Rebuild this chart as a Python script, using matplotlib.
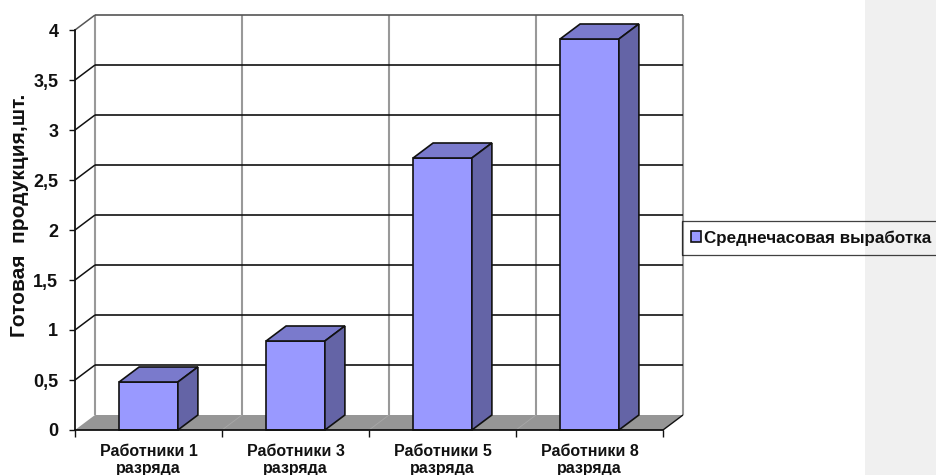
import matplotlib
matplotlib.use("Agg")
import matplotlib.pyplot as plt
from matplotlib.patches import Polygon, Patch, Rectangle

plt.rcParams["font.family"] = ["Liberation Sans", "DejaVu Sans"]
plt.rcParams["font.weight"] = "bold"

# Chart data
categories = ["Работники 1\nразряда", "Работники 3\nразряда",
              "Работники 5\nразряда", "Работники 8\nразряда"]
output_per_hour = [0.48, 0.89, 2.72, 3.91]
y_ticks = [0, 0.5, 1, 1.5, 2, 2.5, 3, 3.5, 4]
y_tick_labels = ["0", "0,5", "1", "1,5", "2", "2,5", "3", "3,5", "4"]
series_name = "Среднечасовая выработка"
y_title = "Готовая  продукция,шт."

# Oblique projection depth, expressed in axis units
DEPTH_X = 0.136
DEPTH_Y = 0.15
BAR_WIDTH = 0.40

FRONT = "#9999FF"
TOP = "#7A7ACC"
SIDE = "#6464A6"
FLOOR = "#969696"
WALL_GREY = "#999999"
INK = "#111111"

W, H = 936, 475
fig = plt.figure(figsize=(W / 100, H / 100), dpi=100, facecolor="white")
fig.add_artist(Rectangle((865 / W, 0), 71 / W, 1, transform=fig.transFigure,
                         facecolor="#F0F0F0", edgecolor="none", zorder=-5))

ax = fig.add_axes([75 / W, (H - 430) / H, 588 / W, 400 / H])
ax.set_xlim(0, len(categories))
ax.set_ylim(0, 4)
ax.patch.set_alpha(0)
for name in ("top", "right"):
    ax.spines[name].set_visible(False)
for name in ("left", "bottom"):
    ax.spines[name].set_linewidth(1.3)
    ax.spines[name].set_color(INK)
    ax.spines[name].set_zorder(6)

n = len(categories)
y_top = y_ticks[-1]


def draw_line(xs, ys, color, lw, z=1):
    ax.plot(xs, ys, color=color, lw=lw, clip_on=False, zorder=z,
            solid_capstyle="butt")


# Floor of the plot box
ax.add_patch(Polygon([(0, 0), (n, 0), (n + DEPTH_X, DEPTH_Y), (DEPTH_X, DEPTH_Y)],
                     closed=True, facecolor=FLOOR, edgecolor="none",
                     clip_on=False, zorder=0.5))

# Back wall: vertical grid, then horizontal grid with its run-in on the side wall
for i in range(n + 1):
    draw_line([i + DEPTH_X] * 2, [DEPTH_Y, y_top + DEPTH_Y], WALL_GREY, 1.5)
    if 0 < i < n:
        draw_line([i, i + DEPTH_X], [0, DEPTH_Y], "#A8A8A8", 0.6)
for v in y_ticks[1:]:
    edge = "#555555" if v == y_top else INK
    draw_line([DEPTH_X, n + DEPTH_X], [v + DEPTH_Y] * 2, edge, 1.2, 1.5)
    draw_line([0, DEPTH_X], [v, v + DEPTH_Y], edge, 1.1, 1.5)
draw_line([n, n + DEPTH_X], [0, DEPTH_Y], INK, 1.0, 1.5)

# Columns drawn as three faces
for i, v in enumerate(output_per_hour):
    x0 = i + 0.5 - BAR_WIDTH / 2
    x1 = i + 0.5 + BAR_WIDTH / 2
    faces = [
        ([(x0, 0), (x1, 0), (x1, v), (x0, v)], FRONT),
        ([(x0, v), (x1, v), (x1 + DEPTH_X, v + DEPTH_Y), (x0 + DEPTH_X, v + DEPTH_Y)], TOP),
        ([(x1, 0), (x1 + DEPTH_X, DEPTH_Y), (x1 + DEPTH_X, v + DEPTH_Y), (x1, v)], SIDE),
    ]
    for pts, colour in faces:
        ax.add_patch(Polygon(pts, closed=True, facecolor=colour, edgecolor=INK,
                             linewidth=1.2, joinstyle="miter", clip_on=False, zorder=3))

# Axis ticks and labels
ax.set_yticks(y_ticks, y_tick_labels)
ax.tick_params(axis="y", length=4, width=1, color=INK, pad=8, labelsize=13, labelcolor=INK)
ax.set_xticks(range(n + 1), [""] * (n + 1))
ax.set_xticks([i + 0.5 for i in range(n)], categories, minor=True)
ax.tick_params(axis="x", which="major", length=5, width=1, color=INK)
ax.tick_params(axis="x", which="minor", length=0, pad=10, labelsize=11.5, labelcolor=INK)
for label in ax.get_xticklabels(minor=True):
    label.set_linespacing(1.2)

fig.text(20 / W, (H - 215) / H, y_title, rotation=90, ha="center", va="center",
         fontsize=15, fontweight="bold", color=INK)

# Legend box running to the right edge of the figure
handle = Patch(facecolor=FRONT, edgecolor=INK, linewidth=1.2, label=series_name)
ax.legend(handles=[handle], loc="upper left", bbox_to_anchor=(681.5 / W, (H - 221) / H),
          bbox_transform=fig.transFigure, fontsize=12.25, frameon=True, fancybox=False,
          edgecolor=INK, facecolor="none", framealpha=None, handlelength=0.6,
          handleheight=0.6, handletextpad=0.2, borderpad=0.55, borderaxespad=0,
          labelcolor=INK).get_frame().set_linewidth(0.9)

fig.savefig("out.png", dpi=100)
